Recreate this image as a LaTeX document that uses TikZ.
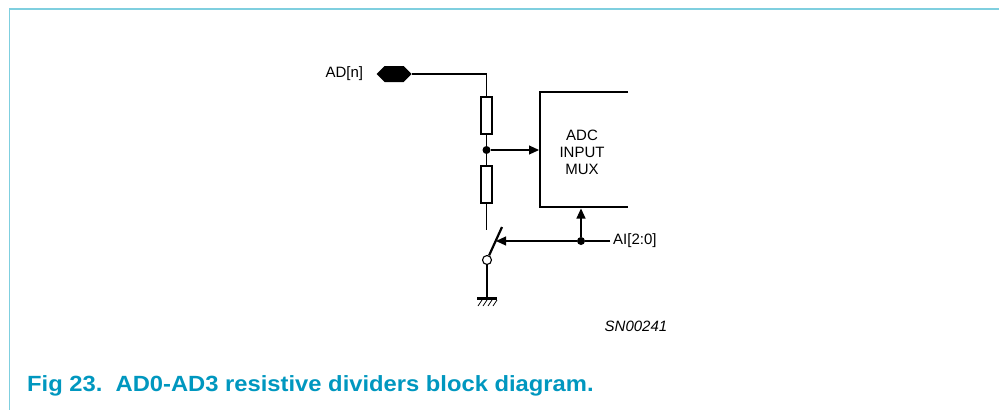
\documentclass[tikz,border=0pt]{standalone}
\usepackage{fontspec}
\setmainfont{Liberation Sans}
\newfontfamily\capfont[FakeStretch=1.08]{Liberation Sans}
\usetikzlibrary{shapes.symbols, arrows.meta, positioning}

\definecolor{framecyan}{HTML}{7FCFDF}
\definecolor{captionblue}{HTML}{0097BF}

\tikzset{
  wire/.style={line width=1.1pt},
  sig/.style={wire, -{Triangle[length=10pt,width=9pt]}},
  resistor/.style={draw, line width=1.1pt, minimum width=11pt, minimum height=37pt, inner sep=0pt},
  junction/.style={circle, fill, minimum size=8pt, inner sep=0pt},
  contact/.style={circle, draw, fill=white, line width=1.1pt, minimum size=9pt, inner sep=0pt},
  pinbox/.style={signal, signal to=west and east, fill, minimum width=35pt, minimum height=16pt, inner sep=0pt},
  txt/.style={font=\fontsize{15}{17}\selectfont, inner sep=0pt},
}

\begin{document}
\begin{tikzpicture}[x=1pt, y=-1pt]
  \useasboundingbox (0,0) rectangle (999,410);

  % Frame
  \draw[framecyan, line width=2pt] (9,9) -- (999,9);
  \draw[framecyan, line width=1pt] (9.5,9) -- (9.5,410);

  % Nodes
  \node (pin) [pinbox] at (394,74) {};
  \node (adn) [txt, left=13pt of pin] {AD[n]};
  \coordinate (bend) at (486.5,74);
  \node (r1) [resistor] at (486.5,115.5) {};
  \node (tap) [junction] at (486.5,150) {};
  \node (r2) [resistor] at (486.5,184.5) {};
  \coordinate (swtop) at (486.5,230);
  \coordinate (blade) at (502,227);
  \coordinate (bladehit) at (496,241);
  \node (cont) [contact] at (487,260) {};
  \coordinate (gnd) at (487,298);

  \node (mux) [txt, align=center] at (582,152) {ADC\\INPUT\\MUX};
  \coordinate (muxtop) at (628,92);
  \coordinate (muxbot) at (628,207);
  \coordinate (muxin) at (539,150);
  \coordinate (muxsel) at (581,208.5);
  \node (sel) [junction] at (581,241) {};
  \node (ai) [txt, anchor=west] at (613,241) {AI[2:0]};
  \node (code) [txt, font=\fontsize{15}{17}\selectfont\itshape] at (636,326) {SN00241};

  \node (caption) [anchor=base west, inner sep=0pt, text=captionblue,
    font=\capfont\bfseries\fontsize{22}{26}\selectfont] at (27,391)
    {Fig 23.\ \ AD0-AD3 resistive dividers block diagram.};

  % Wires
  \draw[wire] (pin.east) -- (bend) -- (r1.north);
  \draw[wire] (r1) -- (tap) -- (r2);
  \draw[wire] (r2.south) -- (swtop);
  \draw[line width=2.2pt] (cont) -- (blade);
  \draw[wire] (cont) -- (gnd);
  \draw[line width=3pt] ([xshift=-10pt]gnd) -- ([xshift=10pt]gnd);
  \foreach \x in {478,483,488,493}
    \draw[line width=0.8pt] (\x,306) -- ++(4,-6);

  % Mux box
  \draw[line width=2.5pt] (muxtop) -| (540,207) -- (muxbot);

  % Arrows
  \draw[sig] (tap) -- (muxin);
  \draw[sig] (sel) -- (muxsel);
  \draw[wire] ([xshift=-3pt]ai.west) -- (sel);
  \draw[sig] (sel) -- (bladehit);
\end{tikzpicture}
\end{document}
